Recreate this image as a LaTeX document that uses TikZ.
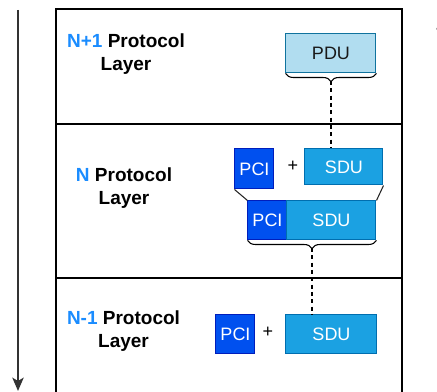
\documentclass[tikz,border=0pt]{standalone}
\usepackage{fontspec}
\setmainfont{Liberation Sans}
\usetikzlibrary{arrows.meta,decorations.pathreplacing}
\definecolor{pdufill}{HTML}{B1DDF0}
\definecolor{pduline}{HTML}{10739E}
\definecolor{pcifill}{HTML}{0050EF}
\definecolor{pciline}{HTML}{001DBC}
\definecolor{sdufill}{HTML}{1BA1E2}
\definecolor{sduline}{HTML}{006EAF}
\definecolor{layerblue}{HTML}{1A8CFF}
\definecolor{arrowgray}{HTML}{333333}
\tikzset{
  unitbox/.style={draw, line width=0.75pt, inner sep=0pt, font=\fontsize{13.5}{16}\selectfont},
  pdubox/.style={unitbox, fill=pdufill, draw=pduline, text=black!90},
  pcibox/.style={unitbox, fill=pcifill, draw=pciline, text=white},
  sdubox/.style={unitbox, fill=sdufill, draw=sduline, text=white},
  layerlabel/.style={align=center, font=\bfseries\fontsize{14.25}{17.25}\selectfont},
  plus/.style={font=\fontsize{13.5}{16}\selectfont},
  joinline/.style={line width=0.8pt, draw=black!85},
  dashlink/.style={line width=0.8pt, dash pattern=on 3pt off 2.5pt},
  bracket/.style={line width=0.8pt, decorate, decoration={brace, mirror, amplitude=6pt}},
  layerframe/.style={line width=1.5pt},
  flowarrow/.style={line width=1.5pt, draw=arrowgray, -{Stealth[length=10pt, width=8.5pt, inset=2.5pt]}}
}
\begin{document}
\begin{tikzpicture}[x=0.75pt, y=-0.75pt]
\clip (0,0) rectangle (437,392);

% layer frames
\draw[layerframe] (56,400) -- (56,9) -- (402,9) -- (402,400);
\draw[layerframe] (56,124) -- (402,124);
\draw[layerframe] (56,278) -- (402,278);

% direction arrows
\coordinate (downstart) at (18,10);
\coordinate (downend) at (18,391);
\draw[flowarrow] (downstart) -- (downend);
\coordinate (upstart) at (442,400);
\coordinate (upend) at (442,16);
\draw[flowarrow] (upstart) -- (upend);

% layer labels
\node[layerlabel] (l1) at (126,54) {\textcolor{layerblue}{N+1} Protocol\\Layer};
\node[layerlabel] (l2) at (124,188) {\textcolor{layerblue}{N} Protocol\\Layer};
\node[layerlabel] (l3) at (123.5,331) {\textcolor{layerblue}{N-1} Protocol\\Layer};

% N+1 layer
\node[pdubox, minimum width=67.5pt, minimum height=29.25pt] (pdu) at (331,53.5) {PDU};

% N layer
\node[pcibox, minimum width=29.25pt, minimum height=30pt] (pci) at (254.5,169) {PCI};
\node[plus] (plusa) at (293,166) {+};
\node[sdubox, minimum width=58.5pt, minimum height=27pt] (sdu) at (344,167) {SDU};
\node[pcibox, minimum width=29.25pt, minimum height=29.25pt] (pcib) at (267.5,220.5) {PCI};
\node[sdubox, minimum width=66.75pt, minimum height=29.25pt] (sdub) at (331.5,220.5) {SDU};
\draw[joinline] (pci.south west) -- (pcib.north west);
\draw[joinline] (sdu.south east) -- (sdub.north east);

% N-1 layer
\node[pcibox, minimum width=29.25pt, minimum height=29.25pt] (pcic) at (235.5,334.5) {PCI};
\node[plus] (plusb) at (268,332) {+};
\node[sdubox, minimum width=68.25pt, minimum height=29.25pt] (sduc) at (331.5,334.5) {SDU};

% brackets and dashed links
\draw[bracket] (pdu.south west) -- (pdu.south east);
\coordinate (tipa) at (331,81);
\draw[dashlink] (tipa) -- (tipa |- sdu.north);
\draw[bracket] (pcib.south west) -- (sdub.south east);
\coordinate (tipb) at (312,248);
\draw[dashlink] (tipb) -- (tipb |- sduc.north);
\end{tikzpicture}
\end{document}
